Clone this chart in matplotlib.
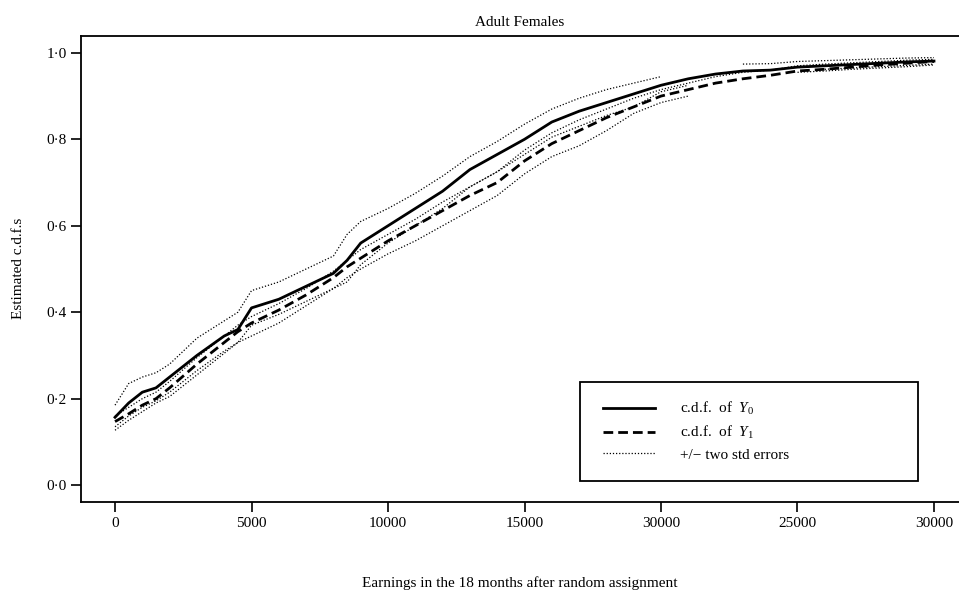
import numpy as np
import matplotlib
matplotlib.use("Agg")
import matplotlib.pyplot as plt
from matplotlib.lines import Line2D
from matplotlib.patches import Rectangle

nan = np.nan

# earnings grid (dollars)
earnings = [0, 500, 1000, 1500, 2000, 3000, 4000, 4500, 5000, 6000, 7000, 8000, 8500,
            9000, 10000, 11000, 12000, 13000, 14000, 15000, 16000, 17000, 18000, 19000,
            20000, 21000, 22000, 23000, 24000, 25000, 26000, 27000, 28000, 29000, 30000]

# estimated c.d.f. of Y0 and Y1
cdf_y0 = [0.157, 0.19, 0.215, 0.225, 0.25, 0.30, 0.345, 0.36, 0.41, 0.43, 0.46, 0.49, 0.52,
          0.56, 0.60, 0.64, 0.68, 0.73, 0.765, 0.80, 0.84, 0.865, 0.885, 0.905,
          0.925, 0.94, 0.951, 0.958, 0.96, 0.967, 0.97, 0.973, 0.976, 0.979, 0.981]
cdf_y1 = [0.147, 0.165, 0.185, 0.20, 0.225, 0.28, 0.33, 0.355, 0.375, 0.405, 0.44, 0.48, 0.505,
          0.525, 0.565, 0.60, 0.635, 0.67, 0.70, 0.75, 0.79, 0.82, 0.85, 0.875,
          0.90, 0.915, 0.93, 0.94, 0.948, 0.958, 0.962, 0.967, 0.972, 0.976, 0.98]

# +/- two std error bands
y0_upper = [0.185, 0.235, 0.25, 0.26, 0.28, 0.34, 0.38, 0.40, 0.45, 0.47, 0.50, 0.53, 0.58,
            0.61, 0.64, 0.675, 0.715, 0.76, 0.795, 0.835, 0.87, 0.895, 0.915, 0.93,
            0.945, nan, nan, 0.974, 0.975, 0.98, 0.982, 0.984, 0.986, 0.988, 0.989]
y0_lower = [0.135, 0.16, 0.18, 0.195, 0.215, 0.265, 0.31, 0.33, 0.37, 0.395, 0.425, 0.455, 0.47,
            0.51, 0.56, 0.60, 0.64, 0.69, 0.725, 0.765, 0.805, 0.83, 0.855, 0.875,
            0.91, 0.925, nan, nan, nan, nan, 0.962, 0.965, 0.968, 0.971, 0.974]
y1_upper = [0.16, 0.18, 0.20, 0.215, 0.24, 0.295, 0.345, 0.37, 0.39, 0.42, 0.455, 0.495, 0.52,
            0.545, 0.58, 0.615, 0.655, 0.69, 0.725, 0.775, 0.815, 0.845, 0.87, 0.895,
            0.915, 0.93, 0.945, 0.955, 0.96, 0.97, 0.974, 0.977, 0.98, 0.983, 0.985]
y1_lower = [0.127, 0.15, 0.17, 0.19, 0.205, 0.255, 0.305, 0.33, 0.345, 0.375, 0.415, 0.455, 0.48,
            0.50, 0.535, 0.565, 0.60, 0.635, 0.67, 0.72, 0.76, 0.785, 0.82, 0.86,
            0.885, 0.90, nan, nan, nan, 0.955, 0.958, 0.962, 0.965, 0.968, 0.972]

x_ticks = [0, 5000, 10000, 15000, 20000, 25000, 30000]
x_tick_labels = ["0", "5000", "10000", "15000", "30000", "25000", "30000"]
y_ticks = [0.0, 0.2, 0.4, 0.6, 0.8, 1.0]
y_tick_labels = ["0·0", "0·2", "0·4", "0·6", "0·8", "1·0"]

plt.rcParams["font.family"] = ["Liberation Serif", "DejaVu Serif"]
plt.rcParams["mathtext.fontset"] = "custom"
plt.rcParams["mathtext.rm"] = "Liberation Serif"
plt.rcParams["mathtext.it"] = "Liberation Serif:italic"

fig = plt.figure(figsize=(9.59, 5.91), dpi=100)
ax = fig.add_axes([0.0845, 0.1506, 0.9155, 0.7885])

dot = (0, (1, 1.5))
for band in (y0_upper, y0_lower, y1_upper, y1_lower):
    ax.plot(earnings, band, color="black", lw=0.9, linestyle=dot)
ax.plot(earnings, cdf_y0, color="black", lw=2.0)
ax.plot(earnings, cdf_y1, color="black", lw=2.0, linestyle=(0, (3.5, 1.8)))

ax.set_xlim(-1245, 30916)
ax.set_ylim(-0.039, 1.039)
ax.set_xticks(x_ticks)
ax.set_xticklabels(x_tick_labels)
ax.set_yticks(y_ticks)
ax.set_yticklabels(y_tick_labels)
ax.tick_params(direction="out", length=7, width=1.2, labelsize=11, colors="black")
ax.spines["right"].set_visible(False)
for s in ("left", "top", "bottom"):
    ax.spines[s].set_linewidth(1.3)

fig.text(0.542, 0.962, "Adult Females", ha="center", va="center", fontsize=11)
fig.text(0.542, 0.014, "Earnings in the 18 months after random assignment",
         ha="center", va="center", fontsize=11)
fig.text(0.019, 0.546, "Estimated c.d.f.s", rotation=90, ha="center", va="center", fontsize=11)

# legend box
ax.add_patch(Rectangle((0.568, 0.045), 0.385, 0.2125, transform=ax.transAxes,
                       fill=False, edgecolor="black", lw=1.3, zorder=5))
handles = [Line2D([], [], color="black", lw=2.0),
           Line2D([], [], color="black", lw=2.0, linestyle=(0, (3.5, 1.8))),
           Line2D([], [], color="black", lw=0.9, linestyle=dot)]
labels = [r"c.d.f.  of  $Y_0$", r"c.d.f.  of  $Y_1$", "+/− two std errors"]
ax.legend(handles, labels, loc="upper left", bbox_to_anchor=(0.588, 0.232),
          frameon=False, fontsize=11, handlelength=3.4, handletextpad=1.6,
          labelspacing=0.45, borderaxespad=0)

fig.savefig("out.png", dpi=100)
